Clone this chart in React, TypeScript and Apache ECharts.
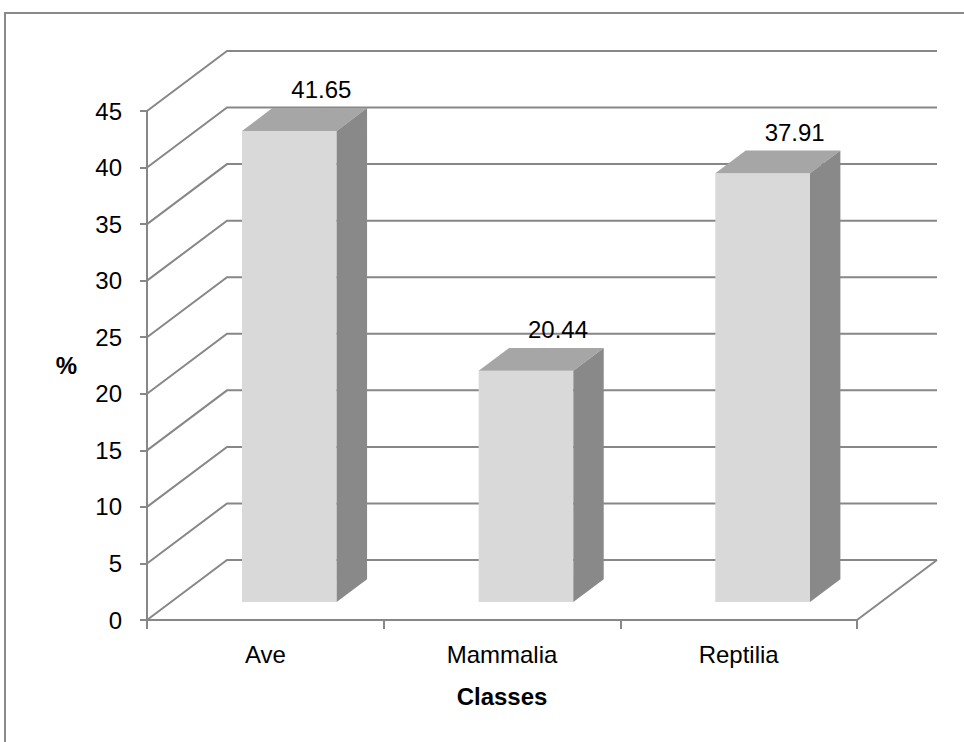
import React, { useEffect, useRef } from "react";
import * as echarts from "echarts";

const categories = ["Ave", "Mammalia", "Reptilia"];
const values = [41.65, 20.44, 37.91];
const gridValues = [0, 5, 10, 15, 20, 25, 30, 35, 40, 45];

const DX = 80;
const DY = 60;
const LINE = "#878787";
const FONT = "'Liberation Sans', Arial, sans-serif";
const NARROW = "'Liberation Sans Narrow', 'Liberation Sans', Arial, sans-serif";

export default function App() {
  const ref = useRef<HTMLDivElement>(null);
  useEffect(() => {
    const chart = echarts.init(ref.current!, undefined, { renderer: "svg" });
    const option: any = {
      animation: false,
      backgroundColor: "#ffffff",
      graphic: [
        {
          type: "rect",
          shape: { x: 5, y: 13, width: 1000, height: 800 },
          style: { fill: "none", stroke: "#8a8a8a", lineWidth: 2 },
          silent: true,
        },
      ],
      grid: { left: 147, right: 107, top: 111, bottom: 122 },
      xAxis: {
        type: "category",
        data: categories,
        boundaryGap: true,
        name: "Classes",
        nameLocation: "middle",
        nameGap: 64,
        nameTextStyle: { fontFamily: NARROW, fontWeight: "bold", fontSize: 24, color: "#000" },
        axisLine: { show: true, lineStyle: { color: LINE, width: 2 } },
        axisTick: { show: true, length: 9, alignWithLabel: false, lineStyle: { color: LINE, width: 2 } },
        axisLabel: { margin: 22, fontSize: 24, color: "#000", fontFamily: FONT },
        splitLine: { show: false },
      },
      yAxis: {
        type: "value",
        min: 0,
        max: 45,
        interval: 5,
        name: "%",
        nameLocation: "middle",
        nameRotate: 0,
        nameGap: 70,
        nameTextStyle: { fontFamily: NARROW, fontWeight: "bold", fontSize: 24, color: "#000", padding: [6, 0, 0, 0] },
        axisLine: { show: true, lineStyle: { color: LINE, width: 2 } },
        axisTick: { show: true, length: 7, inside: false, lineStyle: { color: LINE, width: 2 } },
        axisLabel: { margin: 25, fontSize: 24, color: "#000", fontFamily: FONT },
        splitLine: { show: false },
      },
      series: [
        {
          type: "custom",
          z: 1,
          silent: true,
          encode: { x: 0, y: 1 },
          data: gridValues.map((v) => [0, v]),
          renderItem: (params: any, api: any) => {
            const v = api.value(1);
            const cs = params.coordSys;
            const y = api.coord([0, v])[1];
            const children: any[] = [
              {
                type: "polyline",
                shape: {
                  points: [
                    [cs.x, y],
                    [cs.x + DX, y - DY],
                    [cs.x + cs.width + DX, y - DY],
                  ],
                },
                style: { stroke: LINE, lineWidth: 2, fill: "none" },
              },
            ];
            if (v === 0) {
              children.push({
                type: "line",
                shape: { x1: cs.x + cs.width, y1: y, x2: cs.x + cs.width + DX, y2: y - DY },
                style: { stroke: LINE, lineWidth: 2 },
              });
            }
            return { type: "group", children };
          },
        },
        {
          type: "custom",
          z: 2,
          encode: { x: 0, y: 1 },
          data: values.map((v, i) => [i, v]),
          renderItem: (params: any, api: any) => {
            const i = api.value(0);
            const v = api.value(1);
            const base = api.coord([i, 0]);
            const top = api.coord([i, v]);
            const band = api.size([1, 0])[0];
            const w = band * 0.4;
            const fx = base[0] - w / 2 + DX * 0.3;
            const fy0 = base[1] - DY * 0.3;
            const fy1 = top[1] - DY * 0.3;
            const ddx = DX * 0.38;
            const ddy = DY * 0.38;
            return {
              type: "group",
              children: [
                {
                  type: "polygon",
                  shape: { points: [[fx, fy1], [fx + w, fy1], [fx + w, fy0], [fx, fy0]] },
                  style: { fill: "#d9d9d9" },
                },
                {
                  type: "polygon",
                  shape: {
                    points: [[fx, fy1], [fx + ddx, fy1 - ddy], [fx + w + ddx, fy1 - ddy], [fx + w, fy1]],
                  },
                  style: { fill: "#a6a6a6" },
                },
                {
                  type: "polygon",
                  shape: {
                    points: [[fx + w, fy1], [fx + w + ddx, fy1 - ddy], [fx + w + ddx, fy0 - ddy], [fx + w, fy0]],
                  },
                  style: { fill: "#898989" },
                },
                {
                  type: "text",
                  style: {
                    x: fx + w / 2 + 32,
                    y: fy1 - 41,
                    text: String(values[i]),
                    fill: "#000",
                    fontSize: 24,
                    fontFamily: FONT,
                    textAlign: "center",
                    textVerticalAlign: "middle",
                  },
                },
              ],
            };
          },
        },
      ],
    };
    chart.setOption(option);
    return () => chart.dispose();
  }, []);
  return (
    <div
      ref={ref}
      style={{ position: "absolute", left: 0, top: 0, width: 964, height: 742 }}
    />
  );
}
